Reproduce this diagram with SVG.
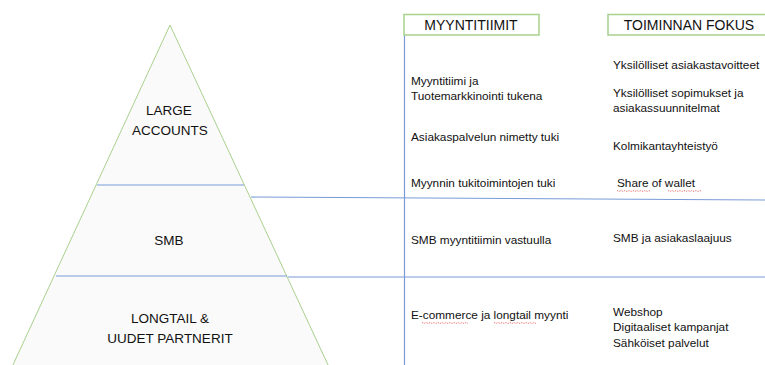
<svg xmlns="http://www.w3.org/2000/svg" width="765" height="365" viewBox="0 0 765 365">
  <style>
    .bg { fill: #ffffff; }
    .tier { fill: #fafafa; stroke: #a9d18e; stroke-width: 1; }
    .divider { stroke: #7a9bd8; stroke-width: 1.2; fill: none; }
    .head { fill: #ffffff; stroke: #a9d18e; stroke-width: 1.5; }
    .label { font-family: "Liberation Sans", Arial, sans-serif; fill: #111111; }
    .tierText { font-size: 13.5px; text-anchor: middle; }
    .headText { font-size: 14px; text-anchor: middle; }
    .item { font-size: 11.8px; }
    .squiggle { stroke: #e04040; stroke-width: 0.8; fill: none; stroke-dasharray: 1 1; }
  </style>

  <rect class="bg" x="0" y="0" width="765" height="365"/>

  <!-- Pyramid body -->
  <g id="pyramid">
    <polygon class="tier" points="170,25 12,367 329,367"/>
  </g>

  <!-- Tier dividers and row separators -->
  <g id="connectors">
    <line class="divider" x1="97" y1="185" x2="244" y2="185"/>
    <line class="divider" x1="56" y1="276" x2="287" y2="276"/>
    <line class="divider" x1="251" y1="197" x2="765" y2="200"/>
    <line class="divider" x1="288" y1="277" x2="765" y2="277"/>
    <line class="divider" x1="404.5" y1="35" x2="404.5" y2="365"/>
  </g>

  <g id="tier-large">
    <text class="label tierText" x="169" y="115">LARGE</text>
    <text class="label tierText" x="170" y="135">ACCOUNTS</text>
  </g>
  <g id="tier-smb">
    <text class="label tierText" x="169" y="245">SMB</text>
  </g>
  <g id="tier-longtail">
    <text class="label tierText" x="170" y="323">LONGTAIL &amp;</text>
    <text class="label tierText" x="170" y="343">UUDET PARTNERIT</text>
  </g>

  <!-- Column headers -->
  <g id="header-myyntitiimit">
    <rect class="head" x="404" y="14.5" width="135" height="20.5"/>
    <text class="label headText" x="471" y="30">MYYNTITIIMIT</text>
  </g>
  <g id="header-fokus">
    <rect class="head" x="608" y="14.5" width="160" height="20.5"/>
    <text class="label headText" x="689" y="30">TOIMINNAN FOKUS</text>
  </g>

  <!-- Sales team column -->
  <g id="teams-large">
    <text class="label item" x="411" y="85">Myyntitiimi ja</text>
    <text class="label item" x="411" y="100">Tuotemarkkinointi tukena</text>
    <text class="label item" x="411" y="141">Asiakaspalvelun nimetty tuki</text>
    <text class="label item" x="411" y="187">Myynnin tukitoimintojen tuki</text>
  </g>
  <g id="teams-smb">
    <text class="label item" x="411" y="244">SMB myyntitiimin vastuulla</text>
  </g>
  <g id="teams-longtail">
    <text class="label item" x="411" y="319">E-commerce ja longtail myynti</text>
    <path class="squiggle" d="M422,322.5 l2,1 l2,-1 l2,1 l2,-1 l2,1 l2,-1 l2,1 l2,-1 l2,1 l2,-1 l2,1 l2,-1 l2,1 l2,-1 l2,1 l2,-1 l2,1 l2,-1 l2,1 l2,-1 l2,1 l2,-1 l2,1"/>
    <path class="squiggle" d="M494,322.5 l2,1 l2,-1 l2,1 l2,-1 l2,1 l2,-1 l2,1 l2,-1 l2,1 l2,-1 l2,1 l2,-1 l2,1 l2,-1 l2,1 l2,-1 l2,1 l2,-1 l2,1 l2,-1 l2,1"/>
  </g>

  <!-- Focus column -->
  <g id="focus-large">
    <text class="label item" x="613" y="69">Yksilölliset asiakastavoitteet</text>
    <text class="label item" x="613" y="97">Yksilölliset sopimukset ja</text>
    <text class="label item" x="613" y="112">asiakassuunnitelmat</text>
    <text class="label item" x="613" y="150">Kolmikantayhteistyö</text>
    <text class="label item" x="617" y="187">Share of wallet</text>
    <path class="squiggle" d="M617,190.5 l2,1 l2,-1 l2,1 l2,-1 l2,1 l2,-1 l2,1 l2,-1 l2,1 l2,-1 l2,1 l2,-1 l2,1 l2,-1 l2,1 l2,-1 l2,1"/>
    <path class="squiggle" d="M668,190.5 l2,1 l2,-1 l2,1 l2,-1 l2,1 l2,-1 l2,1 l2,-1 l2,1 l2,-1 l2,1 l2,-1 l2,1 l2,-1 l2,1 l2,-1 l2,1"/>
  </g>
  <g id="focus-smb">
    <text class="label item" x="613" y="242">SMB ja asiakaslaajuus</text>
  </g>
  <g id="focus-longtail">
    <text class="label item" x="613" y="316">Webshop</text>
    <text class="label item" x="613" y="331">Digitaaliset kampanjat</text>
    <text class="label item" x="613" y="347">Sähköiset palvelut</text>
  </g>
</svg>
